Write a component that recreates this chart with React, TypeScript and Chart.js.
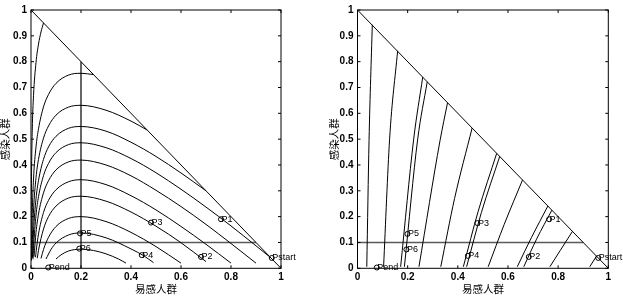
import React, { useEffect, useRef } from 'react';
import { Chart, registerables } from 'chart.js';

Chart.register(...registerables);

type Pt = [number, number];

// ---------- axis text ----------
const xTickLabels = ['0', '0.2', '0.4', '0.6', '0.8', '1'];
const yTickLabels = ['0', '0.1', '0.2', '0.3', '0.4', '0.5', '0.6', '0.7', '0.8', '0.9', '1'];
const xTitle = '易感人群';
const yTitle = '感染人群';

// ---------- markers ----------
const markerNames = ['Pstart', 'P1', 'P2', 'P3', 'P4', 'P5', 'P6', 'Pend'];
const leftMarkers: Pt[] = [
  [0.963, 0.04], [0.76, 0.19], [0.68, 0.044], [0.48, 0.177],
  [0.443, 0.051], [0.196, 0.135], [0.193, 0.076], [0.069, 0.003],
];
const rightMarkers: Pt[] = [
  [0.96, 0.04], [0.764, 0.19], [0.683, 0.044], [0.478, 0.175],
  [0.44, 0.048], [0.199, 0.133], [0.195, 0.073], [0.077, 0.003],
];

// ---------- straight reference lines ----------
const diagonal: Pt[] = [[0, 1], [1, 0]];
const thresholdS: Pt[] = [[0.2, 0], [0.2, 0.8]];
const thresholdI: Pt[] = [[0, 0.1], [0.9, 0.1]];

// ---------- left panel trajectories (s, i) ----------
const leftT0: Pt[] = [[0.0005, 0.08], [0.001, 0.217], [0.002, 0.354], [0.005, 0.535], [0.01, 0.668], [0.02, 0.797], [0.03, 0.868], [0.04, 0.915], [0.05, 0.95]];
const leftT1: Pt[] = [[0.002, 0.03], [0.003, 0.113], [0.005, 0.213], [0.01, 0.346], [0.02, 0.47], [0.03, 0.54], [0.05, 0.625], [0.07, 0.673], [0.1, 0.716], [0.15, 0.748], [0.2, 0.755], [0.25, 0.75]];
const leftT2: Pt[] = [[0.004, 0.04], [0.005, 0.089], [0.01, 0.222], [0.02, 0.351], [0.03, 0.422], [0.05, 0.504], [0.07, 0.551], [0.1, 0.593], [0.15, 0.624], [0.2, 0.631], [0.3, 0.612], [0.4, 0.57], [0.465, 0.535]];
const leftT3: Pt[] = [[0.006, 0.042], [0.01, 0.14], [0.02, 0.269], [0.03, 0.34], [0.05, 0.422], [0.07, 0.47], [0.1, 0.511], [0.15, 0.542], [0.2, 0.549], [0.3, 0.531], [0.4, 0.488], [0.5, 0.433], [0.6, 0.369], [0.7, 0.3]];
const leftT4: Pt[] = [[0.008, 0.035], [0.01, 0.077], [0.02, 0.206], [0.03, 0.277], [0.05, 0.359], [0.07, 0.406], [0.1, 0.448], [0.15, 0.479], [0.2, 0.486], [0.3, 0.467], [0.4, 0.425], [0.5, 0.37], [0.6, 0.306], [0.7, 0.237], [0.8, 0.164], [0.9, 0.087], [0.96, 0.04]];
const leftL6: Pt[] = [[0.012, 0.045], [0.02, 0.139], [0.03, 0.21], [0.05, 0.292], [0.07, 0.339], [0.1, 0.381], [0.15, 0.412], [0.2, 0.419], [0.3, 0.4], [0.4, 0.358], [0.5, 0.302], [0.6, 0.239], [0.7, 0.17], [0.8, 0.096], [0.9, 0.02]];
const leftL5: Pt[] = [[0.018, 0.043], [0.02, 0.062], [0.03, 0.133], [0.05, 0.216], [0.07, 0.263], [0.1, 0.304], [0.15, 0.335], [0.2, 0.343], [0.3, 0.324], [0.4, 0.281], [0.5, 0.226], [0.6, 0.162], [0.7, 0.093], [0.8, 0.02]];
const leftL4: Pt[] = [[0.025, 0.039], [0.03, 0.07], [0.05, 0.152], [0.07, 0.2], [0.1, 0.241], [0.15, 0.272], [0.2, 0.279], [0.3, 0.26], [0.4, 0.218], [0.5, 0.163], [0.6, 0.099], [0.7, 0.026]];
const leftL3: Pt[] = [[0.04, 0.038], [0.05, 0.073], [0.07, 0.12], [0.1, 0.162], [0.15, 0.193], [0.2, 0.2], [0.3, 0.181], [0.4, 0.139], [0.5, 0.084], [0.6, 0.02]];
const leftL2: Pt[] = [[0.06, 0.036], [0.08, 0.073], [0.1, 0.098], [0.15, 0.129], [0.2, 0.137], [0.3, 0.118], [0.4, 0.075], [0.45, 0.049], [0.49, 0.022]];
const leftL1: Pt[] = [[0.1, 0.036], [0.12, 0.052], [0.15, 0.067], [0.2, 0.074], [0.25, 0.069], [0.3, 0.056], [0.35, 0.036], [0.38, 0.02]];

// ---------- right panel trajectories (s, i) ----------
const rightR1: Pt[] = [[0.037, 0.006], [0.046, 0.494], [0.059, 0.943]];
const rightR2: Pt[] = [[0.104, 0.006], [0.128, 0.5], [0.16, 0.842]];
const rightR3: Pt[] = [[0.172, 0.006], [0.224, 0.5], [0.26, 0.74]];
const rightR4: Pt[] = [[0.187, 0.006], [0.24, 0.5], [0.278, 0.722]];
const rightR5: Pt[] = [[0.245, 0.006], [0.329, 0.494], [0.359, 0.641]];
const rightR6: Pt[] = [[0.332, 0.006], [0.387, 0.27], [0.457, 0.543]];
const rightR7: Pt[] = [[0.422, 0.006], [0.481, 0.22], [0.555, 0.445]];
const rightR8: Pt[] = [[0.435, 0.006], [0.494, 0.216], [0.567, 0.433]];
const rightR9: Pt[] = [[0.521, 0.006], [0.585, 0.17], [0.658, 0.342]];
const rightR10: Pt[] = [[0.637, 0.006], [0.694, 0.12], [0.759, 0.241]];
const rightR11: Pt[] = [[0.663, 0.006], [0.714, 0.113], [0.775, 0.225]];
const rightR12: Pt[] = [[0.767, 0.006], [0.809, 0.07], [0.857, 0.143]];
const rightR13: Pt[] = [[0.926, 0.006], [0.953, 0.047]];

const leftCurves = [leftT0, leftT1, leftT2, leftT3, leftT4, leftL6, leftL5, leftL4, leftL3, leftL2, leftL1];
const rightCurves = [rightR1, rightR2, rightR3, rightR4, rightR5, rightR6, rightR7, rightR8, rightR9, rightR10, rightR11, rightR12, rightR13];

const TICK_FONT = { family: '"Liberation Sans", Arial, Helvetica, sans-serif', size: 10, weight: 'bold' };
const TITLE_FONT = { family: '"Noto Sans CJK SC", sans-serif', size: 10.5, lineHeight: 1 };

const toXY = (pts: Pt[]) => pts.map(([x, y]) => ({ x, y }));

const framePlugin = {
  id: 'frameAndLabels',
  afterDatasetsDraw(chart: any) {
    const { ctx, chartArea: a, scales } = chart;
    ctx.save();
    ctx.strokeStyle = '#000';
    ctx.lineWidth = 1;
    ctx.strokeRect(a.left, a.top, a.right - a.left, a.bottom - a.top);
    const tl = 3;
    ctx.beginPath();
    scales.x.ticks.forEach((t: any) => {
      const px = scales.x.getPixelForValue(t.value);
      ctx.moveTo(px, a.bottom); ctx.lineTo(px, a.bottom - tl);
      ctx.moveTo(px, a.top); ctx.lineTo(px, a.top + tl);
    });
    scales.y.ticks.forEach((t: any) => {
      const py = scales.y.getPixelForValue(t.value);
      ctx.moveTo(a.left, py); ctx.lineTo(a.left + tl, py);
      ctx.moveTo(a.right, py); ctx.lineTo(a.right - tl, py);
    });
    ctx.stroke();
    const idx = chart.data.datasets.findIndex((d: any) => d.label === 'markers');
    if (idx >= 0) {
      const meta = chart.getDatasetMeta(idx);
      ctx.font = '9px "Liberation Sans", Arial, sans-serif';
      ctx.fillStyle = '#000';
      ctx.textAlign = 'left';
      ctx.textBaseline = 'middle';
      meta.data.forEach((el: any, i: number) => {
        ctx.fillText(markerNames[i], el.x + 0.5, el.y);
      });
    }
    ctx.restore();
  },
};

type PanelProps = {
  left: number;
  width: number;
  yAxisWidth: number;
  padRight: number;
  curves: Pt[][];
  markers: Pt[];
  showS: boolean;
};

function Panel({ left, width, yAxisWidth, padRight, curves, markers, showS }: PanelProps) {
  const ref = useRef<HTMLCanvasElement | null>(null);
  useEffect(() => {
    if (!ref.current) return;
    const datasets: any[] = [];
    curves.forEach((c, i) => {
      datasets.push({
        label: 'curve' + i,
        data: toXY(c),
        showLine: true,
        pointRadius: 0,
        borderColor: '#000',
        borderWidth: 1,
        cubicInterpolationMode: 'monotone',
        fill: false,
      });
    });
    datasets.push({ label: 'diag', data: toXY(diagonal), showLine: true, pointRadius: 0, borderColor: '#000', borderWidth: 1, tension: 0 });
    if (showS) {
      datasets.push({ label: 'sline', data: toXY(thresholdS), showLine: true, pointRadius: 0, borderColor: '#000', borderWidth: 1.2, tension: 0 });
    }
    datasets.push({ label: 'iline', data: toXY(thresholdI), showLine: true, pointRadius: 0, borderColor: '#5a5a5a', borderWidth: 1.5, tension: 0 });
    datasets.push({
      label: 'markers',
      data: toXY(markers),
      showLine: false,
      pointRadius: 2.5,
      pointStyle: 'circle',
      borderColor: '#000',
      backgroundColor: 'rgba(0,0,0,0)',
      borderWidth: 1,
      clip: false,
    });

    const chart = new Chart(ref.current, {
      type: 'scatter',
      data: { datasets },
      plugins: [framePlugin],
      options: {
        animation: false,
        responsive: false,
        devicePixelRatio: 1,
        events: [],
        layout: { padding: { left: 0, right: padRight, top: 5, bottom: 0 } },
        plugins: { legend: { display: false }, tooltip: { enabled: false } },
        scales: {
          x: {
            type: 'linear',
            position: 'bottom',
            min: 0,
            max: 1,
            grid: { display: false, drawTicks: false },
            border: { display: false },
            ticks: {
              stepSize: 0.2,
              autoSkip: false,
              maxRotation: 0,
              padding: 3,
              color: '#000',
              font: TICK_FONT,
              callback: (v: any) => xTickLabels[Math.round(Number(v) / 0.2)] ?? '',
            },
            title: { display: true, text: xTitle, color: '#000', font: TITLE_FONT, padding: { top: 0, bottom: 2 } },
            afterFit: (s: any) => { s.height = 27.7; },
          },
          y: {
            type: 'linear',
            position: 'left',
            min: 0,
            max: 1,
            grid: { display: false, drawTicks: false },
            border: { display: false },
            ticks: {
              stepSize: 0.1,
              autoSkip: false,
              padding: 4,
              color: '#000',
              font: TICK_FONT,
              callback: (v: any) => yTickLabels[Math.round(Number(v) / 0.1)] ?? '',
            },
            title: { display: true, text: yTitle, color: '#000', font: TITLE_FONT, padding: { top: 0, bottom: 0 } },
            afterFit: (s: any) => { s.width = yAxisWidth; },
          },
        },
      } as any,
    });
    return () => chart.destroy();
  }, []);
  return (
    <canvas
      ref={ref}
      width={width}
      height={296}
      style={{ position: 'absolute', left, top: 0, width, height: 296 }}
    />
  );
}

export default function App() {
  return (
    <div style={{ position: 'absolute', left: 0, top: 0, width: 623, height: 296, background: '#fff', overflow: 'hidden' }}>
      <Panel left={0} width={329} yAxisWidth={31} padRight={48} curves={leftCurves} markers={leftMarkers} showS={true} />
      <Panel left={329} width={294} yAxisWidth={28.5} padRight={14.7} curves={rightCurves} markers={rightMarkers} showS={false} />
    </div>
  );
}
